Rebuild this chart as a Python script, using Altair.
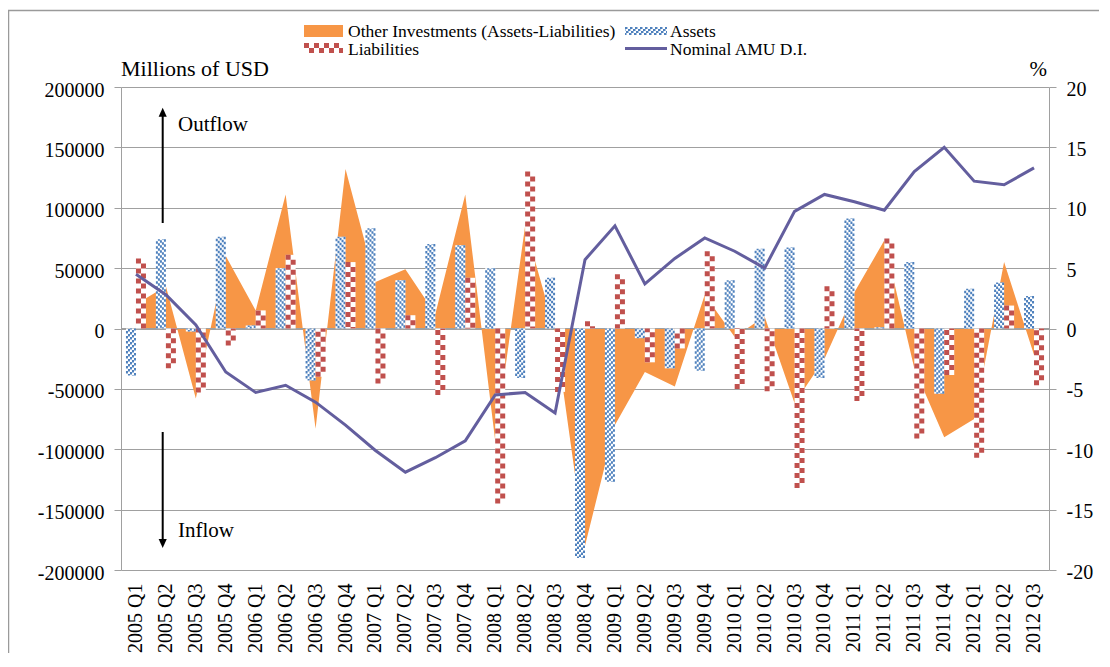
import altair as alt
import pandas as pd

quarters = [
    "2005 Q1", "2005 Q2", "2005 Q3", "2005 Q4",
    "2006 Q1", "2006 Q2", "2006 Q3", "2006 Q4",
    "2007 Q1", "2007 Q2", "2007 Q3", "2007 Q4",
    "2008 Q1", "2008 Q2", "2008 Q3", "2008 Q4",
    "2009 Q1", "2009 Q2", "2009 Q3", "2009 Q4",
    "2010 Q1", "2010 Q2", "2010 Q3", "2010 Q4",
    "2011 Q1", "2011 Q2", "2011 Q3", "2011 Q4",
    "2012 Q1", "2012 Q2", "2012 Q3",
]
other_investments = [
    20000, 35000, -58000, 60000,
    15000, 111000, -83000, 132000,
    38500, 49000, 12000, 111000,
    -93000, 85000, -3000, -180000,
    -80000, -36000, -48000, 28000,
    -7000, 10000, -62000, -25000,
    30000, 73000, -33000, -90000,
    -75000, 55000, -22000,
]
assets = [
    -39000, 74000, -2500, 76000,
    2500, 50000, -43000, 76000,
    83000, 40000, 70000, 69000,
    50000, -41000, 42000, -190000,
    -127000, -8000, -33000, -35000,
    40000, 66000, 67000, -41000,
    91000, 1000, 55000, -54000,
    33000, 38000, 27000,
]
liabilities = [
    58000, -33000, -53000, -14000,
    15000, 61000, -40000, 55000,
    -45500, 11000, -55000, 42000,
    -145000, 130000, -52500, 6000,
    45000, -28000, -16500, 64000,
    -50000, -52000, -132000, 35000,
    -60000, 74500, -91000, -38500,
    -107000, 19000, -47000,
]
nominal_amu_di = [
    4.5, 2.8, 0.3, -3.6,
    -5.3, -4.7, -6.1, -8.0,
    -10.1, -11.9, -10.7, -9.3,
    -5.5, -5.3, -7.0, 5.7,
    8.5, 3.7, 5.8, 7.5,
    6.4, 5.0, 9.7, 11.1,
    10.5, 9.8, 13.0, 15.0,
    12.2, 11.9, 13.3,
]
left_ticks = [-200000, -150000, -100000, -50000, 0, 50000, 100000, 150000, 200000]
right_ticks = [-20, -15, -10, -5, 0, 5, 10, 15, 20]
legend_names = ["Other Investments (Assets-Liabilities)", "Assets", "Liabilities", "Nominal AMU D.I."]

df = pd.DataFrame({
    "quarter": quarters,
    "other": other_investments,
    "assets": assets,
    "liabilities": liabilities,
    "amu": nominal_amu_di,
})

W, H = 928, 483
FONT = "Liberation Serif"
GRID = "#A0A0A0"
ORANGE = "#F79646"
BLUE = "#4F81BD"
RED = "#C0504D"
PURPLE = "#635E9E"

x_axis = alt.Axis(title=None, labelAngle=-90, labelFont=FONT, labelFontSize=20,
                  labelColor="black", labelPadding=13, domain=False, ticks=False,
                  grid=False, labelOverlap=False)
x_enc = alt.X("quarter:N", sort=quarters,
              scale=alt.Scale(type="band", paddingInner=0, paddingOuter=0),
              axis=x_axis)

left_axis = alt.Axis(title=None, values=left_ticks, labelExpr="datum.value + ''",
                     labelFont=FONT, labelFontSize=20, labelColor="black",
                     labelPadding=10, labelOffset=3,
                     tickSize=7, tickColor=GRID, domainColor=GRID, grid=True,
                     gridColor=GRID, gridWidth=1, orient="left")
left_scale = alt.Scale(domain=[-200000, 200000], nice=False, zero=False)


def yl(field):
    return alt.Y(field, scale=left_scale, axis=left_axis)


base = alt.Chart(df)

area = base.mark_area(color=ORANGE, opacity=1).encode(
    x=x_enc, y=alt.Y("other:Q", scale=left_scale, axis=left_axis, stack=None)
)
zero_line = base.mark_rule(color=GRID, strokeWidth=1).encode(
    y=alt.Y(datum=0, scale=left_scale, axis=left_axis)
)

layers = [area, zero_line]

# Assets: white bar + diagonal hatch built from offset dashed columns
layers.append(base.mark_bar(size=10, xOffset=-5, color="white").encode(
    x=x_enc, y=yl("assets:Q"), y2=alt.datum(0)))
for k in range(5):
    layers.append(base.mark_rule(color=BLUE, strokeWidth=2, xOffset=-9 + 2 * k,
                                 strokeDash=[2.5, 2.5], strokeDashOffset=8 - 2 * k).encode(
        x=x_enc, y=yl("assets:Q"), y2=alt.datum(0)))

# Liabilities: white bar + checkerboard built from two dashed columns
layers.append(base.mark_bar(size=10, xOffset=5, color="white").encode(
    x=x_enc, y=yl("liabilities:Q"), y2=alt.datum(0)))
for k in range(2):
    layers.append(base.mark_rule(color=RED, strokeWidth=5, xOffset=2.5 + 5 * k,
                                 strokeDash=[5, 5], strokeDashOffset=5 * k).encode(
        x=x_enc, y=yl("liabilities:Q"), y2=alt.datum(0)))

left = alt.layer(*layers)

right = base.mark_line(color=PURPLE, strokeWidth=3).encode(
    x=x_enc,
    y=alt.Y("amu:Q", scale=alt.Scale(domain=[-20, 20], nice=False, zero=False),
            axis=alt.Axis(title=None, orient="right", values=right_ticks,
                          labelExpr="datum.value + ''",
                          labelFont=FONT, labelFontSize=20, labelColor="black",
                          labelPadding=10, labelOffset=2, tickSize=7, tickColor=GRID,
                          domainColor=GRID, grid=False)),
)

one = alt.Data(values=[{"k": 0}])


def text(label, x, y, size, align="left"):
    return alt.Chart(one).mark_text(align=align, baseline="alphabetic", font=FONT,
                                    fontSize=size, color="black").encode(
        x=alt.value(x), y=alt.value(y), text=alt.value(label))


def hrule(x1, x2, y, color, width, dash=None, offset=0):
    kw = dict(color=color, strokeWidth=width)
    if dash:
        kw["strokeDash"] = dash
        kw["strokeDashOffset"] = offset
    return alt.Chart(one).mark_rule(**kw).encode(
        x=alt.value(x1), x2=alt.value(x2), y=alt.value(y))


deco = []
# outer frame
deco.append(alt.Chart(one).mark_rect(fill="transparent", stroke="#9A9A9A", strokeWidth=1.5).encode(
    x=alt.value(-112.5), x2=alt.value(2000), y=alt.value(-76.5), y2=alt.value(2000)))
# axis titles
deco.append(text("Millions of USD", 0, -11, 22))
deco.append(text("%", 926, -11, 21, align="right"))
# legend
deco.append(alt.Chart(one).mark_rect(color=ORANGE).encode(
    x=alt.value(183), x2=alt.value(222), y=alt.value(-62), y2=alt.value(-50)))
deco.append(text(legend_names[0], 227, -50, 17.5))
for k in range(4):
    deco.append(hrule(504, 546, -59 + 2 * k, BLUE, 2, dash=[2.5, 2.5], offset=2 * k))
deco.append(text(legend_names[1], 549, -50, 17.5))
for k in range(2):
    deco.append(hrule(183, 222, -41.5 + 5 * k, RED, 5, dash=[5, 5], offset=5 * k))
deco.append(text(legend_names[2], 227, -32, 17.5))
deco.append(hrule(504, 546, -38.5, PURPLE, 3))
deco.append(text(legend_names[3], 549, -32, 17.5))
# flow arrows
deco.append(alt.Chart(one).mark_rule(color="black", strokeWidth=2).encode(
    x=alt.value(41.7), y=alt.value(26), y2=alt.value(136)))
deco.append(alt.Chart(one).mark_point(shape="M0,-1L0.9,1L-0.9,1Z", filled=True, size=81,
                                      color="black", opacity=1).encode(
    x=alt.value(41.7), y=alt.value(25.2)))
deco.append(text("Outflow", 57, 43.7, 21))
deco.append(alt.Chart(one).mark_rule(color="black", strokeWidth=2).encode(
    x=alt.value(41.7), y=alt.value(345), y2=alt.value(455)))
deco.append(alt.Chart(one).mark_point(shape="M0,1L0.9,-1L-0.9,-1Z", filled=True, size=81,
                                      color="black", opacity=1).encode(
    x=alt.value(41.7), y=alt.value(456.5)))
deco.append(text("Inflow", 57, 450.3, 21))

chart = alt.layer(left, right, *deco).resolve_scale(y="independent").properties(
    width=W, height=H,
    autosize=alt.AutoSizeParams(type="none"),
    padding={"left": 113, "top": 79, "right": 50, "bottom": 83},
    background="white",
).configure_view(strokeWidth=0)

chart.save("out.html", embed_options={"renderer": "svg", "actions": False})
